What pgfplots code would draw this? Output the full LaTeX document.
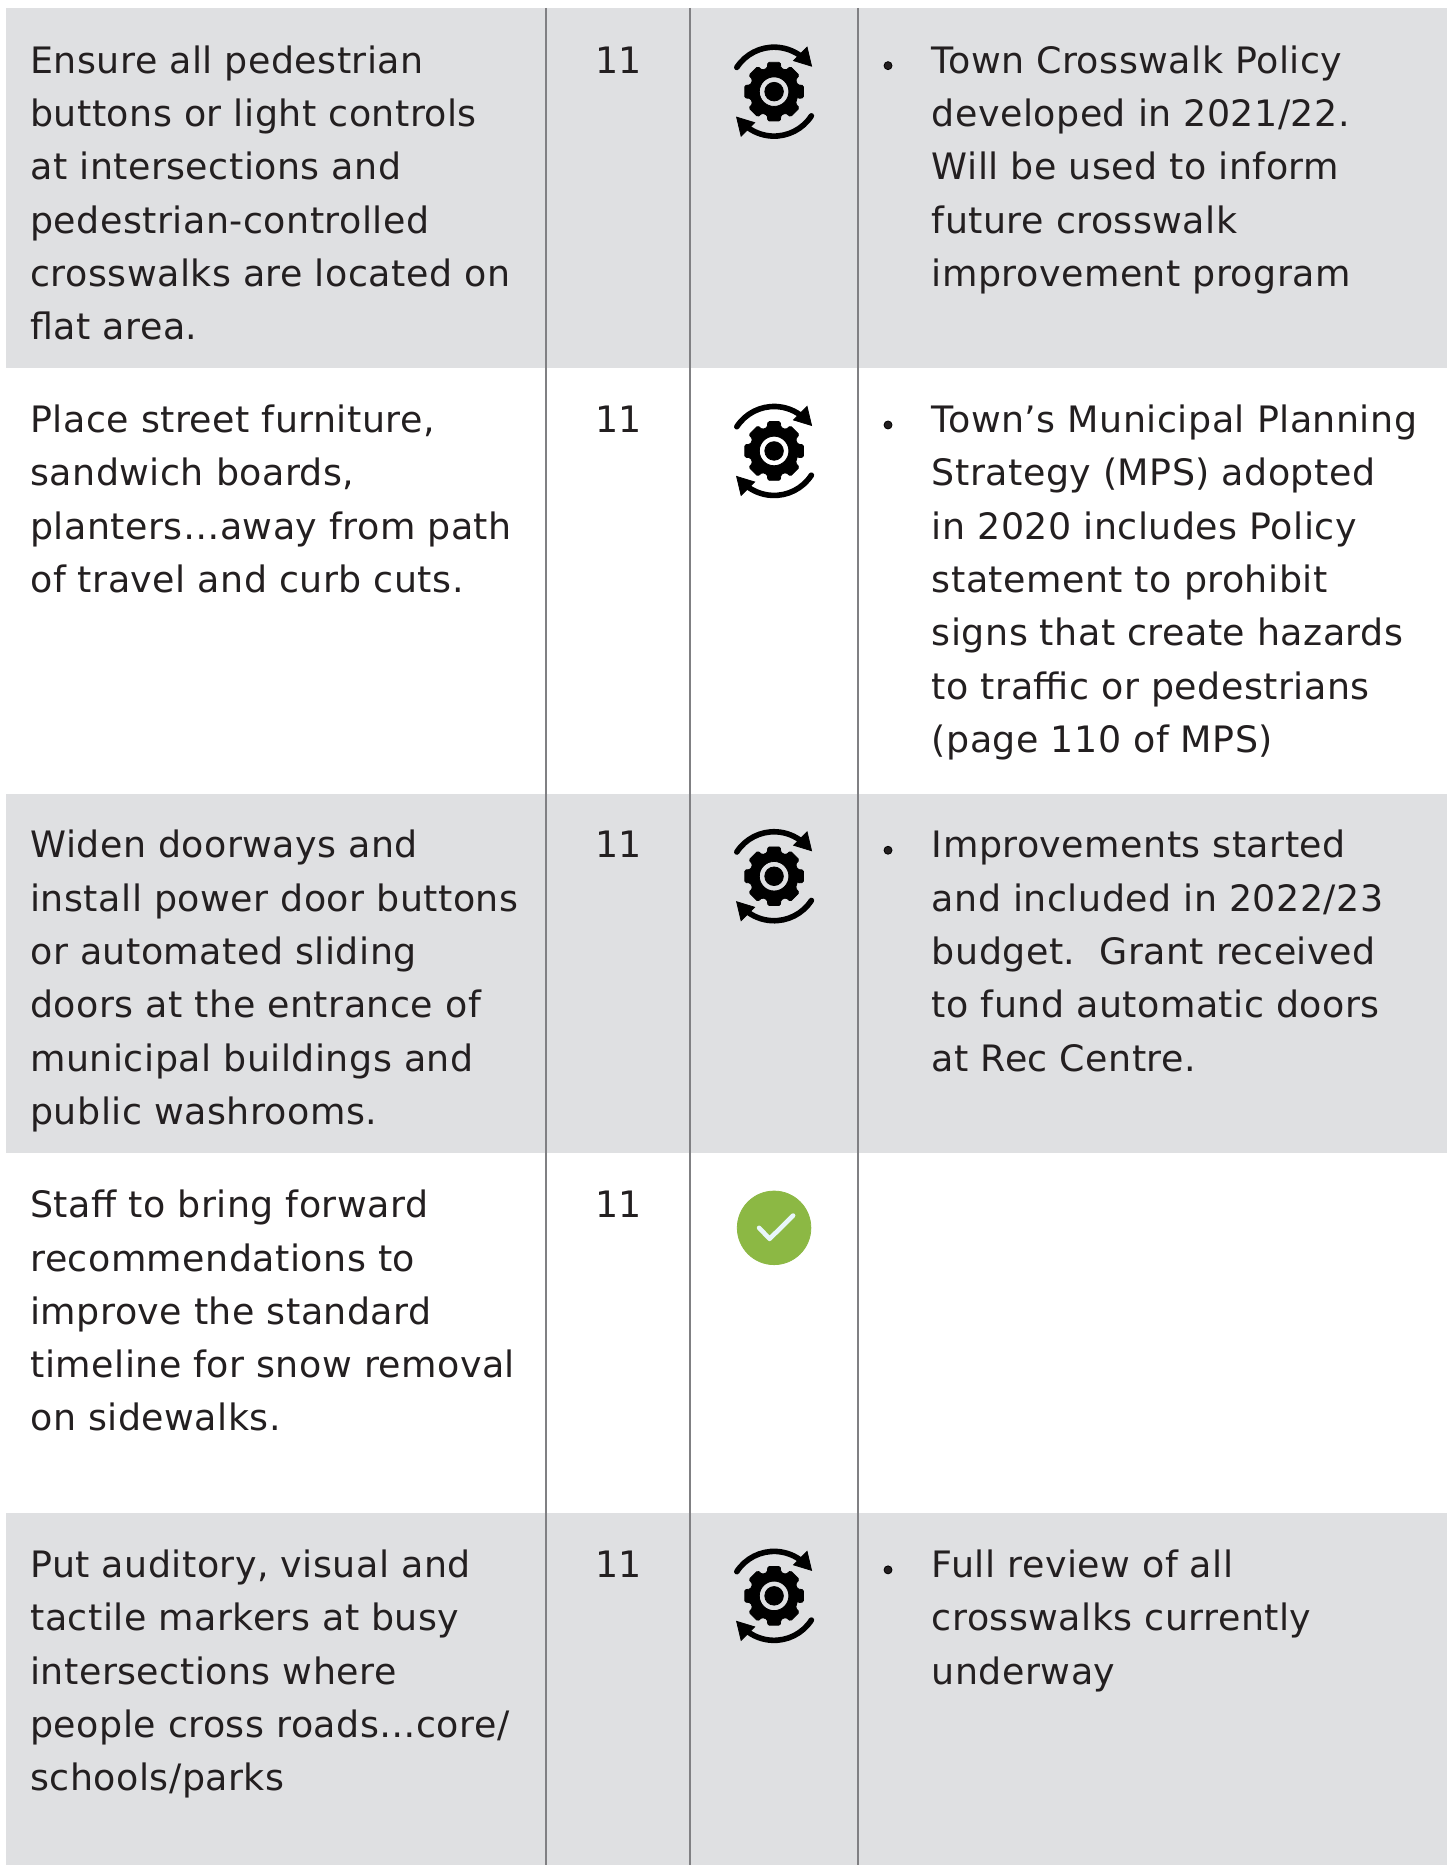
\documentclass[border=0pt]{standalone}
\usepackage{pgfplots}
\pgfplotsset{compat=1.18}
\usepackage{fontspec}
\setmainfont[LetterSpace=1.3]{DejaVu Sans}
\definecolor{rowgray}{HTML}{DFE0E2}
\definecolor{rule}{HTML}{808083}
\definecolor{ink}{HTML}{231F20}
\definecolor{okgreen}{HTML}{8CB844}
\definecolor{okcheck}{HTML}{E8F6FA}
% icons as plot marks (units: reference pixels = 0.5pt)
\pgfdeclareplotmark{gearicon}{%
  \begin{scope}[x=0.5pt,y=0.5pt]
    \fill[black,even odd rule,rounded corners=0.7pt]
      (0:25) \foreach \a in {0,45,...,315} {
        -- (\a-16:24.5) -- (\a-12:30) -- (\a+12:30) -- (\a+16:24.5)
      } -- cycle
      (0,0) circle[radius=14.8];
    \fill[black] (0,0) circle[radius=9.3];
    \draw[black,line width=2.8pt,line cap=round] (147:44.5) arc[start angle=147,end angle=50,radius=44.5];
    \fill[black] (37.5,25.5) -- (33,44.5) -- (19.5,31) -- cycle;
    \draw[black,line width=2.8pt,line cap=round] (-33:44.5) arc[start angle=-33,end angle=-130,radius=44.5];
    \fill[black] (-37.5,-25.5) -- (-33,-44.5) -- (-19.5,-31) -- cycle;
  \end{scope}}
\pgfdeclareplotmark{okicon}{%
  \begin{scope}[x=0.5pt,y=0.5pt]
    \fill[okgreen] (0,0) circle[radius=36.8];
    \draw[okcheck,line width=2.3pt,line cap=round,line join=round] (-15,0) -- (-4.5,-11) -- (19,12.3);
  \end{scope}}
\newcommand{\TL}[4]{\node[anchor=base west,inner sep=0pt,text=ink,font=\tsize] at (axis cs:#1,{73.4+#2+53.3*#3}) {#4};}
\newcommand{\tsize}{\fontsize{18.2pt}{24pt}\selectfont}
\newcommand{\NUM}[1]{\node[anchor=base,inner sep=0pt,text=ink,font=\tsize] at (axis cs:619,{73.4+#1}) {11};}
\begin{document}
\begin{tikzpicture}
\begin{axis}[
  width=724.5pt,height=933pt,scale only axis,
  xmin=0,xmax=1449,ymin=0,ymax=1866,y dir=reverse,
  hide axis,clip=false]
\addplot[fill=white,draw=none] coordinates {(0,0)(1449,0)(1449,1866)(0,1866)} -- cycle;
\addplot[fill=rowgray,draw=none] coordinates {(6,8)(1447.5,8)(1447.5,368)(6,368)} -- cycle;
\addplot[fill=rowgray,draw=none] coordinates {(6,794)(1447.5,794)(1447.5,1153.5)(6,1153.5)} -- cycle;
\addplot[fill=rowgray,draw=none] coordinates {(6,1514)(1447.5,1514)(1447.5,1866)(6,1866)} -- cycle;
\addplot[rule,line width=1pt] coordinates {(546.3,8)(546.3,1866)};
\addplot[rule,line width=1pt] coordinates {(690,8)(690,1866)};
\addplot[rule,line width=1pt] coordinates {(858.3,8)(858.3,1866)};
% status icons
\addplot[only marks,mark=gearicon] coordinates {(774.5,91.7)(774.5,451.2)(774.5,876.7)(774.5,1596.7)};
\addplot[only marks,mark=okicon] coordinates {(774.5,1228.5)};
% bullets
\addplot[only marks,mark=*,mark size=2pt,mark options={fill=ink,draw=none}] coordinates {(888.5,65.7)(888.5,425.2)(888.5,850.7)(888.5,1570.7)};
% numbers
\NUM{0}\NUM{359.5}\NUM{785}\NUM{1145}\NUM{1505}
% row 1
\TL{30}{0}{0}{Ensure all pedestrian}
\TL{30}{0}{1}{buttons or light controls}
\TL{30}{0}{2}{at intersections and}
\TL{30}{0}{3}{pedestrian-controlled}
\TL{30}{0}{4}{crosswalks are located on}
\TL{30}{0}{5}{ﬂat area.}
\TL{932}{0}{0}{Town Crosswalk Policy}
\TL{932}{0}{1}{developed in 2021/22.}
\TL{932}{0}{2}{Will be used to inform}
\TL{932}{0}{3}{future crosswalk}
\TL{932}{0}{4}{improvement program}
% row 2
\TL{30}{359.5}{0}{Place street furniture,}
\TL{30}{359.5}{1}{sandwich boards,}
\TL{30}{359.5}{2}{planters…away from path}
\TL{30}{359.5}{3}{of travel and curb cuts.}
\TL{932}{359.5}{0}{Town’s Municipal Planning}
\TL{932}{359.5}{1}{Strategy (MPS) adopted}
\TL{932}{359.5}{2}{in 2020 includes Policy}
\TL{932}{359.5}{3}{statement to prohibit}
\TL{932}{359.5}{4}{signs that create hazards}
\TL{932}{359.5}{5}{to traffic or pedestrians}
\TL{932}{359.5}{6}{(page 110 of MPS)}
% row 3
\TL{30}{785}{0}{Widen doorways and}
\TL{30}{785}{1}{install power door buttons}
\TL{30}{785}{2}{or automated sliding}
\TL{30}{785}{3}{doors at the entrance of}
\TL{30}{785}{4}{municipal buildings and}
\TL{30}{785}{5}{public washrooms.}
\TL{932}{785}{0}{Improvements started}
\TL{932}{785}{1}{and included in 2022/23}
\TL{932}{785}{2}{budget.\ \ Grant received}
\TL{932}{785}{3}{to fund automatic doors}
\TL{932}{785}{4}{at Rec Centre.}
% row 4
\TL{30}{1145}{0}{Staff to bring forward}
\TL{30}{1145}{1}{recommendations to}
\TL{30}{1145}{2}{improve the standard}
\TL{30}{1145}{3}{timeline for snow removal}
\TL{30}{1145}{4}{on sidewalks.}
% row 5
\TL{30}{1505}{0}{Put auditory, visual and}
\TL{30}{1505}{1}{tactile markers at busy}
\TL{30}{1505}{2}{intersections where}
\TL{30}{1505}{3}{people cross roads…core/}
\TL{30}{1505}{4}{schools/parks}
\TL{932}{1505}{0}{Full review of all}
\TL{932}{1505}{1}{crosswalks currently}
\TL{932}{1505}{2}{underway}
\end{axis}
\end{tikzpicture}
\end{document}
